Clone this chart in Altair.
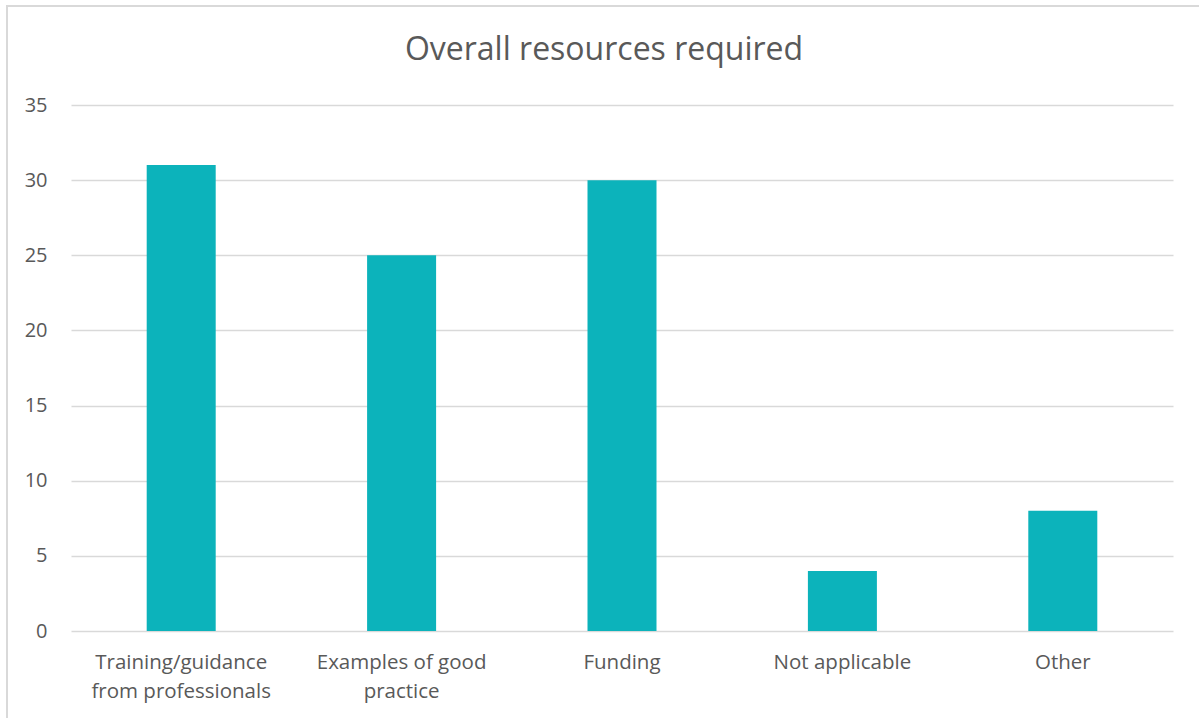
import altair as alt
import pandas as pd

categories = ["Training/guidance|from professionals", "Examples of good|practice", "Funding", "Not applicable", "Other"]
values = [31, 25, 30, 4, 8]
title_text = ["Overall resources required"]

df = pd.DataFrame({"cat": categories, "val": values})
tdf = pd.DataFrame({"t": title_text})

FONT = "Open Sans"
TXT = "#595959"

bars = alt.Chart(df).mark_bar(color="#0CB3BB", size=69).encode(
    x=alt.X("cat:N", sort=categories, title=None,
            axis=alt.Axis(labelExpr="split(datum.label, '|')", labelAngle=0,
                          labelFontSize=20.5, labelFont=FONT, labelColor=TXT,
                          labelPadding=21, labelLineHeight=29, domain=False, ticks=False,
                          grid=False)),
    y=alt.Y("val:Q", title=None, scale=alt.Scale(domain=[0, 35], nice=False),
            axis=alt.Axis(values=[0, 5, 10, 15, 20, 25, 30, 35], labelFontSize=20,
                          labelFont=FONT, labelColor=TXT, labelPadding=24,
                          domain=False, ticks=False, gridColor="#D9D9D9", gridWidth=1.5)),
)

frame = alt.Chart(df).mark_rect(fill=None, stroke="#D9D9D9", strokeWidth=1.5).encode(
    x=alt.value(-64), x2=alt.value(1140), y=alt.value(-99), y2=alt.value(620)
)

title = alt.Chart(tdf).mark_text(font=FONT, fontSize=32, color=TXT, align="center",
                                 baseline="middle").encode(
    text="t:N", x=alt.value(533), y=alt.value(-55)
)

chart = alt.layer(frame, bars, title).properties(
    width=1102, height=526,
    autosize=alt.AutoSizeParams(type="none"),
    padding={"left": 71, "top": 105, "right": 26, "bottom": 87},
).configure_view(stroke=None)

chart.save("out.html", embed_options={"renderer": "svg", "actions": False})
